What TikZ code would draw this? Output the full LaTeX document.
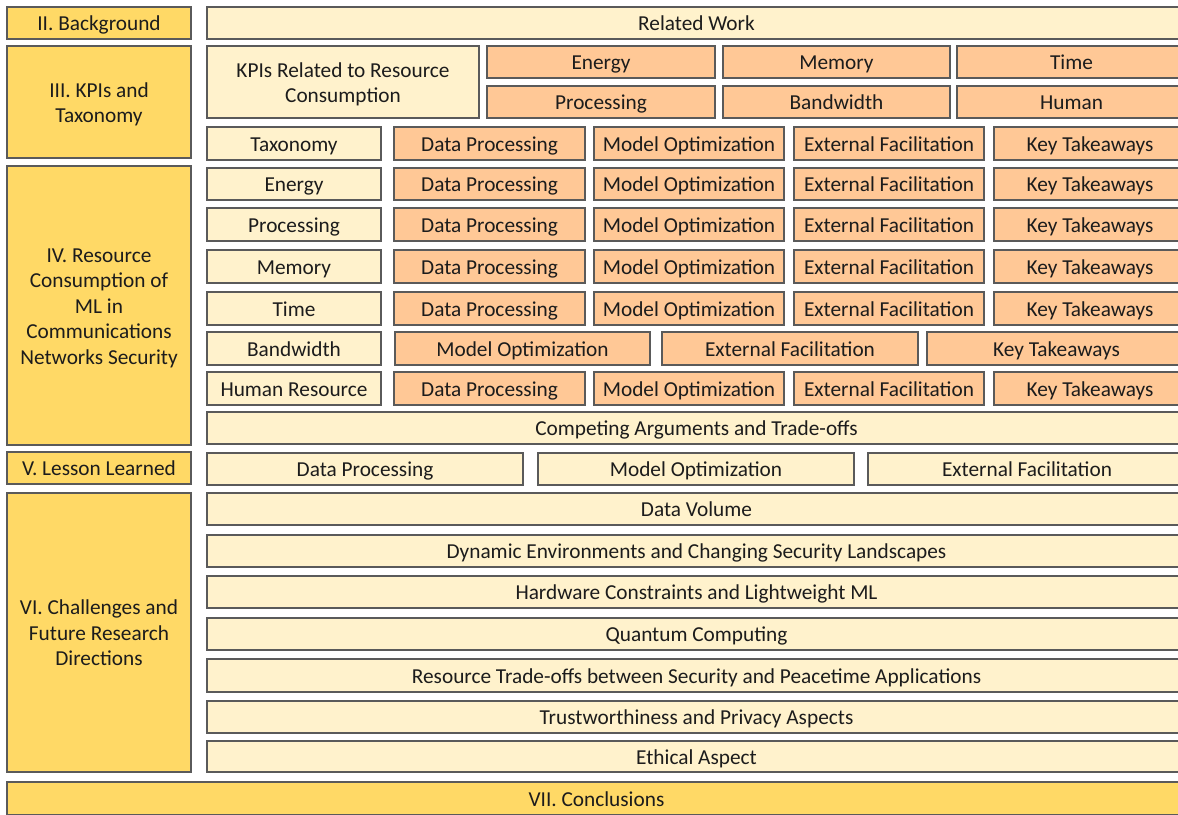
\documentclass[tikz,border=0pt]{standalone}
\usepackage{fontspec}
\setmainfont{Carlito}
\definecolor{secgold}{HTML}{FFD966}
\definecolor{subcream}{HTML}{FFF2CC}
\definecolor{itempeach}{HTML}{FFC896}
\definecolor{edgegray}{HTML}{5A5A5A}
\definecolor{inkdark}{HTML}{1C1C1C}
\tikzset{
  cellbase/.style={draw=edgegray, line width=1.4pt, inner sep=0pt,
    align=center, text=inkdark, font=\fontsize{21.3}{25.4}\selectfont,
    text height=17.04pt, text depth=1.4pt},
  section/.style={cellbase, fill=secgold},
  topic/.style={cellbase, fill=subcream},
  item/.style={cellbase, fill=itempeach},
  % taller text boxes for labels set on several lines
  twolines/.style={text height=42.44pt},
  threelines/.style={text height=67.84pt},
  fivelines/.style={text height=118.64pt}
}
% \cell{name}{x1}{y1}{x2}{y2}{style}{text}: a box spanning the two corners
\newcommand\cell[7]{%
  \pgfmathsetmacro\cellw{#4-#2}%
  \pgfmathsetmacro\cellh{#5-#3}%
  \node[#6, minimum width=\cellw pt, minimum height=\cellh pt]
    (#1) at ({(#2+#4)/2},{(#3+#5)/2}) {#7};}
\begin{document}
\begin{tikzpicture}[x=1pt, y=-1pt]
\useasboundingbox (0,0) rectangle (1178,814);
\clip (0,0) rectangle (1178,814);
\fill[white] (0,0) rectangle (1178,814);

% section column
\cell{secII}{7}{7}{191}{39}{section}{II. Background}
\cell{secIII}{7}{46}{191}{158}{section,twolines}{III. KPIs and\\Taxonomy}
\cell{secIV}{7}{166}{191}{445}{section,fivelines}{IV. Resource\\Consumption of\\ML in\\Communications\\Networks Security}
\cell{secV}{7}{452}{191}{484}{section}{V. Lesson Learned}
\cell{secVI}{7}{493}{191}{772}{section,threelines}{VI. Challenges and\\Future Research\\Directions}
\cell{secVII}{7}{782}{1186}{815}{section}{VII. Conclusions}

% background and KPIs
\cell{related}{207}{7}{1186}{39}{topic}{Related Work}
\cell{kpirel}{207}{46}{479}{118}{topic,twolines}{KPIs Related to Resource\\Consumption}
\cell{kEnergy}{487}{46}{715}{78}{item}{Energy}
\cell{kMemory}{723}{46}{950}{78}{item}{Memory}
\cell{kTime}{957}{46}{1186}{78}{item}{Time}
\cell{kProc}{487}{86}{715}{118}{item}{Processing}
\cell{kBand}{723}{86}{950}{118}{item}{Bandwidth}
\cell{kHuman}{957}{86}{1186}{118}{item}{Human}

% taxonomy and per-KPI rows
\foreach \r/\lab/\ya/\yb in {tax/Taxonomy/127/160, en/Energy/168/200,
    pr/Processing/208/241, me/Memory/250/283, ti/Time/292/325,
    hr/Human Resource/372/405}{
  \cell{\r-lab}{207}{\ya}{381}{\yb}{topic}{\lab}
  \cell{\r-dp}{394}{\ya}{585}{\yb}{item}{Data Processing}
  \cell{\r-mo}{594}{\ya}{784}{\yb}{item}{Model Optimization}
  \cell{\r-ef}{794}{\ya}{984}{\yb}{item}{External Facilitation}
  \cell{\r-kt}{994}{\ya}{1186}{\yb}{item}{Key Takeaways}
}
\cell{bw-lab}{207}{332}{381}{365}{topic}{Bandwidth}
\cell{bw-mo}{395}{332}{650}{365}{item}{Model Optimization}
\cell{bw-ef}{662}{332}{918}{365}{item}{External Facilitation}
\cell{bw-kt}{927}{332}{1186}{365}{item}{Key Takeaways}
\cell{competing}{207}{412}{1186}{444}{topic}{Competing Arguments and Trade-offs}

% lessons learned
\cell{ll-dp}{207}{453}{523}{485}{topic}{Data Processing}
\cell{ll-mo}{538}{453}{854}{485}{topic}{Model Optimization}
\cell{ll-ef}{868}{453}{1186}{485}{topic}{External Facilitation}

% challenges
\cell{chDV}{207}{493}{1186}{525}{topic}{Data Volume}
\cell{chDyn}{207}{535}{1186}{567}{topic}{Dynamic Environments and Changing Security Landscapes}
\cell{chHW}{207}{576}{1186}{608}{topic}{Hardware Constraints and Lightweight ML}
\cell{chQC}{207}{618}{1186}{650}{topic}{Quantum Computing}
\cell{chRT}{207}{659}{1186}{692}{topic}{Resource Trade-offs between Security and Peacetime Applications}
\cell{chTP}{207}{701}{1186}{733}{topic}{Trustworthiness and Privacy Aspects}
\cell{chEA}{207}{741}{1186}{772}{topic}{Ethical Aspect}
\end{tikzpicture}
\end{document}
